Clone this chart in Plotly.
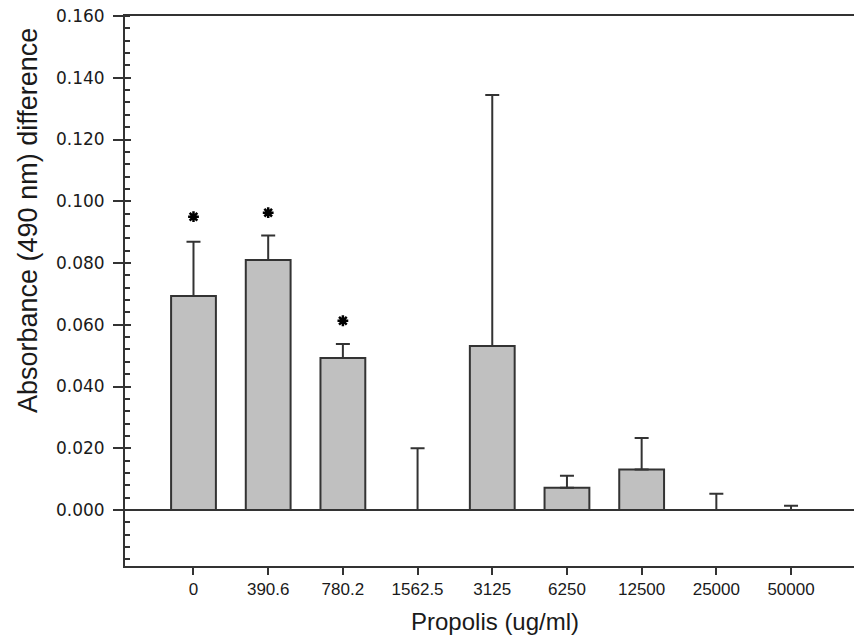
import plotly.graph_objects as go

categories = ["0", "390.6", "780.2", "1562.5", "3125", "6250", "12500", "25000", "50000"]
means = [0.0693, 0.0810, 0.0492, 0.0, 0.0531, 0.0072, 0.0131, 0.0, 0.0]
errors = [0.0176, 0.0079, 0.0046, 0.0200, 0.0813, 0.0039, 0.0102, 0.0053, 0.0014]
star_idx = [0, 1, 2]
star_y = [0.0950, 0.0963, 0.0613]

xpos = list(range(len(categories)))
ink = "#333333"
txt = "#1a1a1a"

fig = go.Figure()
fig.add_trace(go.Bar(
    x=xpos, y=means, width=0.6,
    marker=dict(color="#c0c0c0", line=dict(color=ink, width=2)),
    error_y=dict(type="data", array=errors, symmetric=False, arrayminus=[0]*len(errors),
                 color=ink, thickness=2, width=7),
    showlegend=False,
))
fig.add_trace(go.Scatter(
    x=star_idx, y=star_y, mode="markers",
    marker=dict(symbol="asterisk-open", size=9, color="#000000",
                line=dict(color="#000000", width=2.5)),
    showlegend=False,
))
# overlay axis for inner part of major ticks
fig.add_trace(go.Scatter(x=[0], y=[0], yaxis="y2", mode="markers",
                         marker=dict(opacity=0), showlegend=False, hoverinfo="skip"))

yr = [-0.01814, 0.160]
fig.update_layout(
    width=854, height=639,
    margin=dict(l=125, r=0, t=16, b=73),
    paper_bgcolor="white", plot_bgcolor="white",
    font=dict(family="Liberation Sans, Arial, sans-serif", color=txt),
    xaxis=dict(
        range=[-0.917, 8.843], tickmode="array", tickvals=xpos, ticktext=categories,
        showgrid=False, zeroline=False, automargin=False,
        showline=True, linecolor=ink, linewidth=2, mirror=True,
        ticks="outside", ticklen=7, tickwidth=2, tickcolor=ink,
        tickfont=dict(family="Liberation Sans, Arial, sans-serif", size=17, color=txt),
    ),
    yaxis=dict(
        range=yr, tick0=0, dtick=0.02, tickformat=".3f",
        showgrid=False, automargin=False,
        zeroline=True, zerolinecolor=ink, zerolinewidth=2,
        showline=True, linecolor=ink, linewidth=2,
        ticks="outside", ticklen=10, tickwidth=2, tickcolor=ink,
        ticklabelstandoff=5,
        minor=dict(dtick=0.004, tick0=0, ticks="inside", ticklen=5, tickwidth=2, tickcolor=ink, showgrid=False),
        tickfont=dict(family="DejaVu Sans, sans-serif", size=17, color=txt),
    ),
    yaxis2=dict(
        range=yr, tick0=0, dtick=0.02, overlaying="y", side="left", automargin=False,
        showgrid=False, zeroline=False, showline=False, showticklabels=False,
        ticks="inside", ticklen=6, tickwidth=2, tickcolor=ink,
    ),
    annotations=[
        dict(text="Absorbance (490 nm) difference", textangle=-90,
             xref="paper", yref="paper", x=(28 - 125) / 729, y=(566 - 221) / 550,
             xanchor="center", yanchor="middle", showarrow=False,
             font=dict(family="Liberation Sans, Arial, sans-serif", size=27, color=txt)),
        dict(text="Propolis (ug/ml)",
             xref="paper", yref="paper", x=(494.5 - 125) / 729, y=(566 - 621) / 550,
             xanchor="center", yanchor="middle", showarrow=False,
             font=dict(family="Liberation Sans, Arial, sans-serif", size=24, color=txt)),
    ],
)
fig.write_html("out.html", config={"displayModeBar": False},
               post_script="document.body.style.margin='0';document.body.style.overflow='hidden';")
